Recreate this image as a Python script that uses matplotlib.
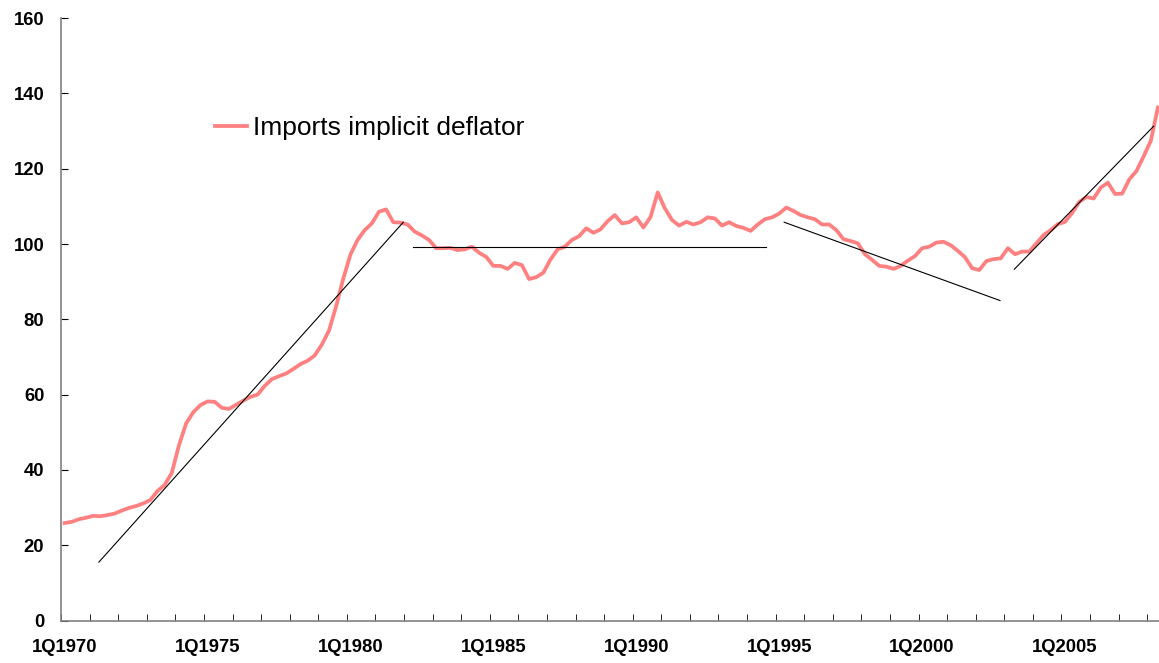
import matplotlib.pyplot as plt

# Imports implicit deflator, quarterly 1Q1970 - 2Q2008
deflator = [25.9, 26.2, 26.9, 27.3, 27.8, 27.7, 28.0, 28.4, 29.2, 29.9,
            30.4, 31.1, 32.0, 34.4, 36.0, 39.2, 46.5, 52.3, 55.3, 57.2,
            58.2, 58.1, 56.5, 56.2, 57.3, 58.4, 59.4, 60.0, 62.3, 64.1,
            64.9, 65.6, 66.8, 68.1, 69.0, 70.4, 73.3, 77.0, 83.5, 90.8,
            97.2, 101.1, 103.7, 105.5, 108.6, 109.2, 105.8, 105.7, 105.2, 103.3,
            102.3, 101.1, 98.9, 98.9, 99.0, 98.4, 98.6, 99.3, 97.7, 96.6,
            94.2, 94.2, 93.4, 95.0, 94.4, 90.7, 91.2, 92.4, 95.9, 98.6,
            99.3, 101.1, 102.1, 104.2, 103.0, 103.9, 106.1, 107.7, 105.5, 105.8,
            107.1, 104.4, 107.2, 113.7, 109.5, 106.4, 104.9, 105.9, 105.2, 105.8,
            107.1, 106.8, 104.9, 105.8, 104.8, 104.3, 103.5, 105.2, 106.6, 107.1,
            108.1, 109.7, 108.8, 107.7, 107.1, 106.6, 105.2, 105.2, 103.7, 101.3,
            100.8, 100.2, 97.3, 95.8, 94.2, 94.0, 93.4, 94.2, 95.6, 96.8,
            98.9, 99.3, 100.4, 100.6, 99.7, 98.2, 96.5, 93.6, 93.1, 95.5,
            96.0, 96.2, 98.9, 97.3, 98.0, 98.0, 100.2, 102.4, 103.7, 105.3,
            105.9, 108.3, 111.2, 112.5, 112.1, 115.0, 116.3, 113.3, 113.4, 117.2,
            119.4, 123.3, 127.4, 136.3]
quarters = [f"{q}Q{y}" for y in range(1970, 2009) for q in range(1, 5)][:len(deflator)]

tick_pos = [0, 20, 40, 60, 80, 100, 120, 140]
tick_labels = ["1Q1970", "1Q1975", "1Q1980", "1Q1985", "1Q1990", "1Q1995", "1Q2000", "1Q2005"]

# trend segments (start x, end x, start y, end y) in quarter index / index value
trend_x = [[4.8, 47.4], [48.7, 98.2], [100.7, 130.9], [132.9, 152.4]]
trend_y = [[15.5, 105.8], [99.1, 99.1], [105.8, 85.0], [93.3, 131.3]]

plt.rcParams['font.family'] = ['Liberation Sans', 'DejaVu Sans']

fig = plt.figure(figsize=(11.59, 6.63), dpi=100)
W, H = 1159, 663
ax = fig.add_axes([61 / W, 42.5 / H, 1100.5 / W, 602.3 / H])

x = list(range(len(deflator)))
ax.plot(x, deflator, color='#FF8080', lw=2.7, label='Imports implicit deflator', zorder=2)
for tx, ty in zip(trend_x, trend_y):
    ax.plot(tx, ty, color='black', lw=0.8, zorder=3)

ax.set_xlim(-0.5, len(deflator) - 0.5)
ax.set_ylim(0, 160)
ax.set_yticks(range(0, 161, 20))
ax.set_xticks(tick_pos)
ax.set_xticklabels(tick_labels)
ax.set_xticks([i - 0.5 for i in range(0, len(deflator) + 1, 4)], minor=True)

for s in ['top', 'right']:
    ax.spines[s].set_visible(False)
for s in ['left', 'bottom']:
    ax.spines[s].set_color('#808080')
    ax.spines[s].set_linewidth(1.2)

ax.tick_params(axis='y', direction='in', length=5, color='black', pad=12, labelsize=13.3)
ax.tick_params(axis='x', which='major', length=0, pad=13, labelsize=13.3)
ax.tick_params(axis='x', which='minor', direction='in', length=5, color='black')
for lab in ax.get_xticklabels() + ax.get_yticklabels():
    lab.set_fontweight('bold')

ax.legend(loc='center left', bbox_to_anchor=((215 - 61) / 1100.5, (535 - 42.5) / 602.3),
          frameon=False, fontsize=19, handlelength=1.2, handletextpad=0.25,
          borderpad=0, borderaxespad=0)

plt.savefig('out.png', dpi=100)
